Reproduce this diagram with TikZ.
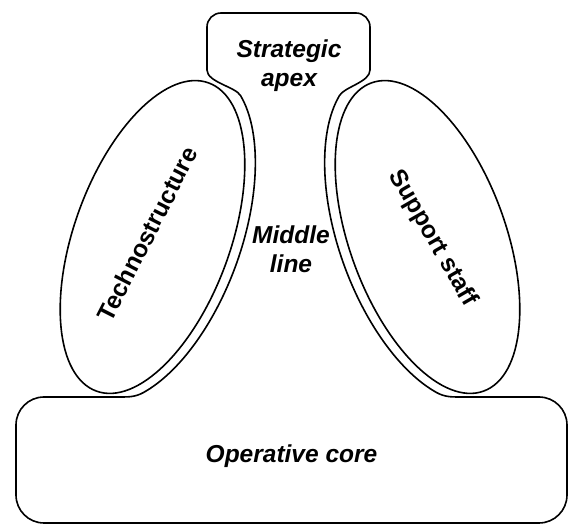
\documentclass[tikz,border=0pt]{standalone}
\usepackage{fontspec}
\setmainfont{Liberation Sans}
\usetikzlibrary{scopes}

\tikzset{
  partname/.style={font=\fontsize{24.5}{29}\selectfont\bfseries\itshape, align=center, inner sep=0pt},
  sidename/.style={font=\fontsize{24.5}{29}\selectfont\bfseries, inner sep=0pt},
  outline/.style={line width=1.6pt, line join=round}
}

\begin{document}
\begin{tikzpicture}[x=1pt,y=1pt]
\useasboundingbox (0,0) rectangle (574,525);
% the two staff ellipses
\draw[outline, rotate around={70:(152.5,288)}] (152.5,288) ellipse [x radius=164, y radius=78];
\draw[outline, rotate around={110:(427.5,288)}] (427.5,288) ellipse [x radius=164, y radius=78];
% where the middle line leaves the ellipses
{[shift={(155,289)},rotate=70]
\coordinate (ltop) at (-22:174 and 86);
\coordinate (lbot) at (-150:174 and 86);
}
{[shift={(425,289)},rotate=110]
\coordinate (rtop) at (22:174 and 86);
\coordinate (rbot) at (150:174 and 86);
}
% apex, middle line and operating core as one outline
\draw[outline] (207,455) -- (207,498) arc[start angle=180,end angle=90,radius=14]
  -- (356,512) arc[start angle=90,end angle=0,radius=14] -- (370,455)
  .. controls +(0,-12) and +(59:10) .. (rtop)
  -- plot[smooth,domain=22:150,samples=40] ({425+174*cos(\x)*cos(110)-86*sin(\x)*sin(110)},{289+174*cos(\x)*sin(110)+86*sin(\x)*cos(110)})
  to[out=-29,in=180] (460,128) -- (539,128) arc[start angle=90,end angle=0,radius=28]
  -- (567,30) arc[start angle=0,end angle=-90,radius=28]
  -- (44,2) arc[start angle=270,end angle=180,radius=28]
  -- (16,100) arc[start angle=180,end angle=90,radius=28]
  -- (120,128) to[out=0,in=209] (lbot)
  -- plot[smooth,domain=-150:-22,samples=40] ({155+174*cos(\x)*cos(70)-86*sin(\x)*sin(70)},{289+174*cos(\x)*sin(70)+86*sin(\x)*cos(70)})
  .. controls +(121:10) and +(0,-12) .. (207,455) -- cycle;
% names of the parts
\node[partname] (apex) at (289,459) {Strategic\\apex};
\node[partname] (middle) at (291,276) {Middle\\line};
\node[partname, anchor=base] (core) at (291.5,62) {Operative core};
\node[sidename, rotate=63] (techno) at (147,291) {Technostructure};
\node[sidename, rotate=-60] (support) at (432.5,287) {Support staff};
\end{tikzpicture}
\end{document}
